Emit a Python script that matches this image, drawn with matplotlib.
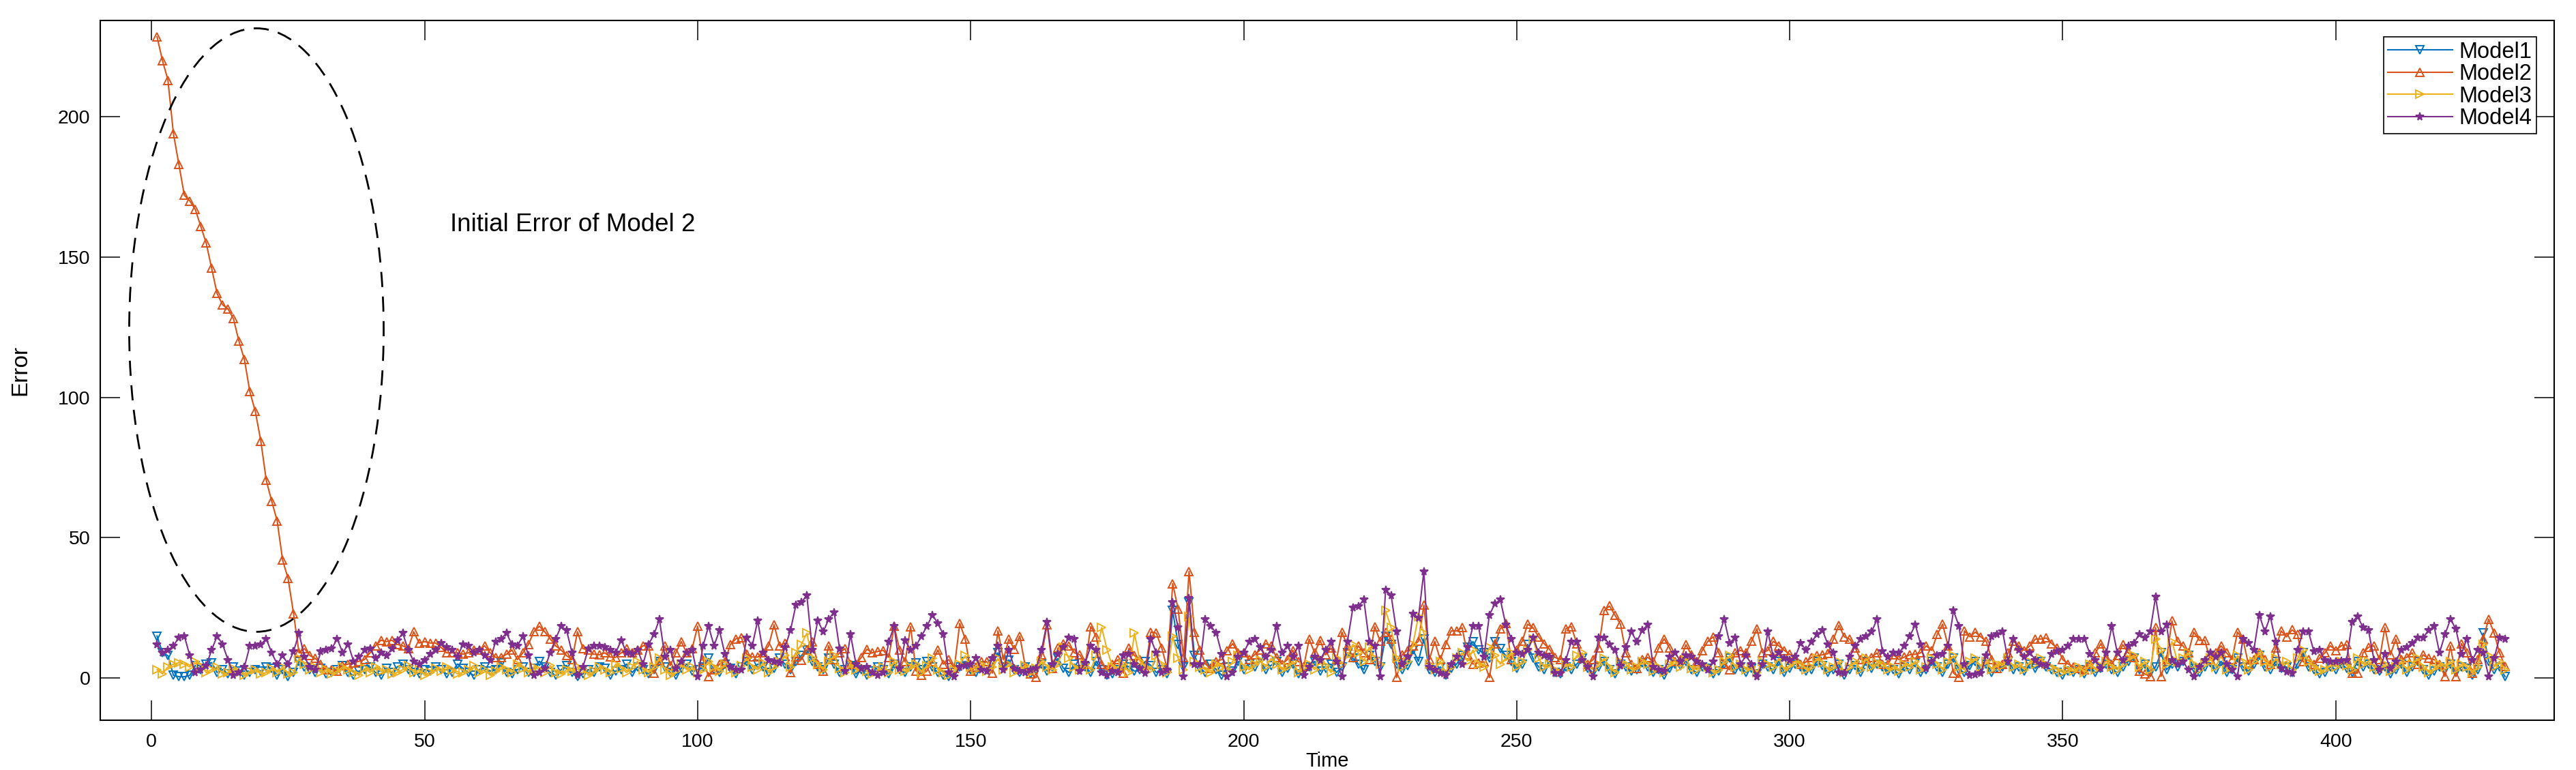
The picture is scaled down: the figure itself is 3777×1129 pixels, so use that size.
import matplotlib
matplotlib.use('Agg')
import matplotlib.pyplot as plt
from matplotlib.patches import Ellipse
import numpy as np

plt.rcParams['font.family'] = ['Liberation Sans', 'DejaVu Sans']

# error values, one per time step (t = 1..431)
model1 = [
    15, 9, 8, 1, 0.5, 0.5, 1, 4.5, 3, 5,
    5.5, 2, 3, 1.5, 4, 2.5, 1, 2, 3, 2.5,
    4, 3.5, 1, 3, 0.5, 2, 6, 4, 3, 2,
    3.5, 1.5, 2, 3, 4.5, 2, 1, 2.5, 3, 4,
    2, 1, 3.5, 2, 4, 5, 3, 2, 1.5, 3,
    2.5, 4, 3, 1.5, 2, 5, 3.5, 2, 1, 3,
    4, 2.5, 3, 5.5, 2, 1.5, 3, 4, 2, 3.5,
    6, 4, 2, 1, 3, 4.5, 2, 0.5, 1.5, 3,
    2, 4, 3.5, 1, 2.5, 3, 5, 2, 4, 3,
    1.5, 3, 6, 4, 2, 1, 3.5, 5, 2.5, 3,
    4, 7, 3, 2, 5, 3.5, 1.5, 4, 6, 3,
    5, 4, 2, 3.5, 7, 5, 3, 6, 8, 10,
    6, 4, 3, 7, 5, 2, 3, 4.5, 1.5, 3,
    1, 2.5, 4, 3, 1.5, 5, 3, 2, 4, 5.5,
    3, 6, 4, 2, 1, 0.5, 2, 4, 6, 3,
    2, 4.5, 3, 5, 9, 4, 6.5, 3, 2, 4,
    1.5, 3, 5, 2.5, 4, 7, 3.5, 2, 5, 3,
    4, 2, 6, 3, 1, 1.5, 3, 5, 4, 2.5,
    3, 6, 4.5, 2, 3, 1.5, 24, 12, 4, 27,
    8, 3.5, 2, 5, 3, 1, 4, 2.5, 6, 3,
    5, 4, 7, 3, 4.5, 6, 2, 3.5, 5, 1.5,
    3, 4, 6, 2.5, 3.5, 5, 2, 4, 9, 7,
    5, 3, 8, 6, 4, 15, 12, 5, 3, 4.5,
    10, 6, 14, 3, 2, 4, 1, 3.5, 5, 8,
    11, 13, 10, 9, 7, 13, 10.5, 8, 6, 3.5,
    5, 12, 7, 4, 3, 6, 2, 1.5, 4, 3,
    5, 7, 3.5, 2, 4, 6, 3, 1.5, 5, 4,
    2.5, 3, 5.5, 4, 2, 3, 1, 3.5, 5, 4.5,
    6, 3, 2, 4, 3.5, 1.5, 2.5, 5, 7, 3,
    4, 2, 3.5, 1.5, 5, 4, 3, 6, 2, 3.5,
    5, 4, 2.5, 3, 6, 4.5, 2, 3, 5, 1,
    3, 4.5, 2, 6, 3.5, 5, 4, 2.5, 3, 1.5,
    4, 3, 5.5, 2, 3, 6, 4, 2, 5, 7,
    3, 2, 4.5, 6, 3, 5, 2, 3.5, 4, 6,
    3, 4, 2.5, 5, 3.5, 6, 4, 3, 2, 1,
    2.5, 2, 3, 1.5, 4, 2, 3.5, 5, 3, 2,
    4, 6, 7, 3, 5, 2, 4, 9, 3, 5,
    4, 6, 8, 3.5, 2, 4, 5.5, 3, 6, 2,
    3, 7, 4, 2.5, 5, 8, 4, 3, 6, 3.5,
    4, 2, 5, 9, 4, 3, 1.5, 2, 4, 3,
    5, 3.5, 2, 6, 4, 5, 3, 2.5, 4, 1.5,
    3, 5, 2, 4, 6, 3, 1, 2.5, 4, 3,
    5, 2, 4, 3.5, 1, 3, 16, 6, 3, 4, 0.5,
]

model2 = [
    228.5, 220, 213, 194, 183, 172, 170, 167, 161, 155,
    146, 137, 133, 131.5, 128, 120, 113.5, 102, 95, 84.5,
    70.5, 63, 56, 42, 35.5, 23, 9, 10.5, 8, 7,
    5, 3, 3, 2.6, 4.5, 5, 5.5, 6, 6.6, 9,
    11.5, 13.5, 13, 13.5, 12, 11.5, 10.5, 16.5, 12.5, 13,
    12.5, 12.5, 11, 9, 9, 9, 8.5, 9, 10, 10,
    11.5, 9, 7.4, 7.4, 8.5, 10, 6.6, 9, 12, 16.5,
    18.5, 16.5, 14, 11.5, 10, 8, 6.6, 16.5, 10.5, 10,
    8.5, 8.3, 9, 7.5, 7.4, 9, 10.5, 9, 10, 11.5,
    11.5, 1.8, 6.5, 11.5, 4.5, 9, 13, 9, 10.5, 18.5,
    6.5, 0.6, 3, 5, 6, 12, 14, 14.5, 8.5, 7.5,
    7.5, 9, 11.5, 19, 11.5, 12.5, 2, 7.5, 6.5, 10,
    13, 5, 2.6, 11.5, 6.6, 9, 10.5, 5, 5, 7.4,
    10.3, 9, 9.5, 9.9, 7.4, 18.5, 10, 5.8, 18.4, 2.6,
    1, 2.6, 6, 10, 5, 6.6, 3.4, 19.5, 14, 2.6,
    4, 5.8, 5.8, 1.8, 16.8, 6.6, 13.9, 10.3, 15, 4.2,
    1.5, 0.2, 8.3, 19, 3.4, 10.7, 12.3, 11.5, 9, 8.3,
    5, 18.4, 14.7, 5, 3, 5, 6.6, 1.8, 10.7, 8,
    6.6, 3.4, 16.4, 16, 10.7, 3.4, 33.7, 24.5, 7.4, 38,
    16.4, 10, 5, 3.4, 6, 6.6, 9.9, 12.3, 9, 9,
    6.6, 8.3, 10, 12.3, 11.5, 7.4, 5, 6.6, 9.9, 6,
    4.2, 13.9, 9, 13.5, 8.3, 10.7, 6.6, 16.4, 11.5, 7.4,
    11.5, 9, 6.6, 18.4, 13.1, 16.4, 13.9, 0.2, 8.3, 9.9,
    11.5, 13.1, 26, 6.6, 13.1, 6.6, 12, 16.8, 16.8, 18,
    8.3, 5, 5.5, 5.8, 0.2, 12.3, 17.6, 19.6, 6.6, 10,
    13.1, 19.2, 18, 14.7, 12.3, 10.3, 7.4, 6.6, 17.6, 18.4,
    12.3, 7, 5, 6.6, 10.7, 24, 25.7, 22.4, 19.2, 9,
    5, 3.4, 6.6, 7.4, 5.8, 10.7, 14, 10.7, 5.8, 6.6,
    11.9, 8.3, 5.8, 9.9, 13.1, 14.7, 9, 5, 3, 9,
    9.9, 9, 13.1, 17.6, 9, 9.9, 13.1, 11.5, 9.9, 8.5,
    7.4, 5, 5.8, 7.4, 8, 8.3, 8.7, 13.9, 18.8, 14.7,
    13.9, 10.7, 6.6, 7, 7.4, 9, 5, 5, 8.3, 6.6,
    7.5, 8.3, 8.5, 9, 11.5, 9.9, 15.5, 19.2, 11.5, 1.8,
    0.2, 16.8, 14.7, 16.4, 14.7, 13.1, 6.6, 3.4, 5, 9,
    13.1, 11.5, 9.9, 11.5, 13.9, 13.9, 14.3, 12.3, 10.7, 6.6,
    5, 4, 3.4, 3, 5, 9, 12.3, 7.4, 5, 8,
    11.9, 9, 7.4, 2.6, 1.5, 0.6, 18, 0.6, 6.6, 20.4,
    13.1, 11.5, 9, 16.4, 13.5, 13.5, 6.6, 9, 11.5, 9,
    6.6, 16.4, 13.9, 5, 6.6, 9, 6.6, 5, 10.7, 16.8,
    14.7, 17.2, 15.5, 5.8, 6.6, 5, 7, 9, 11.5, 9.9,
    11.5, 11.9, 1.8, 1.8, 9, 11, 11.5, 6.6, 18, 8.3,
    13.9, 6.6, 7.4, 9, 5, 8.3, 7, 6.6, 5, 0.6,
    11.5, 0.6, 12.3, 9, 1.8, 6.6, 14, 21, 16, 9, 4.2,
]

model3 = [
    3, 1.5, 4, 5, 5.5, 5, 4, 6, 4.5, 2,
    3, 4, 1.5, 2, 3.5, 2, 1, 2.5, 3, 1.5,
    2, 3.5, 2, 4, 1.5, 2, 7, 5, 3, 4,
    2, 3, 1.5, 2.5, 4, 3, 2, 1, 3.5, 2,
    4, 2.5, 3, 1.5, 2, 3, 4.5, 2, 3, 1,
    2, 3.5, 2.5, 4, 3, 1.5, 2, 3, 4.5, 2,
    3, 1, 2.5, 4, 3, 2, 5, 3.5, 2, 4,
    3, 2, 4.5, 2, 1.5, 3, 2.5, 4, 3, 1,
    2.5, 4, 3, 2, 5, 3.5, 2, 4, 6, 3,
    2, 4, 7, 3, 1, 2.5, 5, 3, 4, 2,
    3, 6, 4, 2.5, 5, 3, 2, 4.5, 7, 4,
    3, 5.5, 2, 4, 6, 8, 4, 9, 12, 16,
    7, 5, 3, 6, 8, 3.5, 2, 5, 3, 4,
    2.5, 1.5, 3, 4, 2, 6, 3, 2.5, 4, 5,
    2, 4.5, 7, 3, 2, 1, 3, 5, 8, 4,
    3, 5, 2.5, 4, 7, 3, 5, 2, 3, 4.5,
    2, 3.5, 6, 4, 3, 5, 11, 7, 4, 3,
    5, 3, 8, 18, 10, 4, 3, 5, 2, 16,
    6, 4, 3, 8, 5, 2, 15, 7, 3, 22,
    6, 4, 3, 2, 5, 4, 3, 6, 8, 4,
    3, 5, 6.5, 4, 7, 5, 3, 4, 6, 2,
    4, 5, 3, 6, 4.5, 2, 7, 5, 8, 12,
    9, 6, 11, 7, 5, 24, 18, 7, 4, 6,
    12, 22, 16, 5, 3, 6, 2, 4, 7, 9,
    6, 10, 5, 4, 11, 8, 5, 7, 9, 4,
    6, 10, 14, 7, 4, 5, 3, 2, 5, 4,
    8, 9, 4, 3, 5, 7, 4, 2, 6, 5,
    3, 4, 6, 5, 2.5, 4, 2, 5, 6, 4,
    7, 3.5, 3, 5, 4, 2, 3, 6, 8, 4,
    5, 3, 4, 2, 6, 5, 4, 7, 3, 4.5,
    6, 5, 3, 4, 7, 5.5, 3, 4, 6, 2,
    4, 6, 3, 7, 4, 5.5, 5, 3, 4, 2.5,
    5, 4, 6, 3, 4, 7, 5, 3, 6, 8,
    4, 3, 6, 7, 4, 6, 3, 5, 4.5, 7,
    4, 5, 3, 6, 5, 7, 5, 4, 3, 2,
    3, 2.5, 4, 2, 5, 3, 4.5, 6, 4, 3,
    5, 7, 8, 4, 6, 3, 14, 10, 5, 13,
    6, 7, 9, 5, 3, 5, 7, 4, 8, 3,
    4, 8, 6, 3, 6, 9, 6, 4, 7, 5,
    6, 3, 7, 10, 6, 4, 2.5, 3, 5, 4,
    6, 4.5, 3, 7, 5, 6, 4, 3, 5, 2.5,
    4, 6, 3, 5, 7, 4, 2, 3.5, 5, 4,
    6, 3, 5, 4, 2, 4, 12, 8, 4, 6, 3,
]

model4 = [
    12, 9, 10, 11.5, 14.5, 15, 8, 2, 3, 4.5,
    10, 15, 12, 6.5, 1, 2, 4, 11.5, 11.5, 12,
    14, 9, 5, 8, 5, 9.5, 16, 7.5, 4, 3,
    9.5, 10, 10.5, 14, 9, 12, 6, 7.5, 10, 10.5,
    7, 9, 8, 10.5, 13.5, 16, 10, 6, 5, 6.5,
    8.5, 10, 12.5, 11, 10, 7.5, 12, 11.5, 9, 10,
    8, 6.5, 13, 14, 16, 12, 11.5, 15, 8, 1,
    2, 3.5, 9, 14, 18.5, 17, 9, 1, 4, 10.5,
    11.5, 11.5, 11, 10, 9, 13.5, 9, 8.5, 10, 5,
    12, 15.5, 21, 7.5, 10, 3.5, 6, 9, 10, 0.6,
    11.5, 18.5, 11.5, 17, 8.5, 4, 3, 3, 14.5, 11.5,
    20.5, 9, 6.5, 6, 5.5, 11, 17, 26, 27, 29.5,
    10, 20.5, 16.5, 21, 23.5, 10.5, 2.5, 15.5, 5, 3.5,
    4, 2, 1, 2, 13, 18.5, 3.5, 13.5, 10, 11.5,
    15, 18.5, 22.5, 19.5, 15.5, 2, 0.6, 4, 4.5, 5,
    7, 3, 2.5, 7, 11.5, 3, 10, 3.5, 2.5, 2,
    3, 3.5, 10, 20, 5, 8.5, 11, 14.5, 14, 2.5,
    5.5, 11.5, 10, 2, 1, 2.5, 2, 8, 8.5, 5,
    3.5, 1.8, 14, 9, 2, 3, 27, 18, 0.6, 28.5,
    5, 5, 21, 18.5, 16, 8.5, 0.6, 2, 7.5, 9,
    13, 14, 11, 7.5, 10, 18.5, 9, 11.5, 7.5, 11.5,
    1, 4, 7.5, 6.5, 10, 13, 5.8, 0.6, 13, 25,
    25.5, 28, 13, 11.5, 0.6, 31.5, 29.5, 16.5, 5, 7.5,
    23, 21.5, 38, 4, 3, 1.8, 1, 5, 7.5, 5,
    11, 18.5, 18.5, 7.5, 22.5, 26.5, 28, 19, 14, 9,
    8.5, 10, 14.5, 9, 8, 7.5, 1.8, 1.8, 6.5, 13,
    13, 6.5, 4, 0.6, 14.5, 14.5, 12, 10, 4.5, 11,
    16.5, 13, 17, 19, 4, 3, 2.5, 7.5, 9, 6,
    8, 7.5, 6, 5, 3, 6, 15, 21, 12.5, 14.5,
    5, 8, 5, 0.6, 5, 16.5, 7.5, 9, 7, 6.5,
    7.5, 12.5, 10, 13, 15.5, 17, 12, 9, 2, 1.8,
    7.5, 11.5, 14, 15, 16.5, 21, 9.5, 7.5, 9, 9,
    11.5, 15, 19, 12, 3.5, 6, 8, 8.5, 11.5, 24,
    18.5, 5, 1, 1.4, 1.8, 8, 15, 15.5, 16.5, 6,
    14, 10, 7.5, 9, 6.5, 5, 4.5, 8.5, 9.5, 10,
    11.5, 14, 14, 14, 8.5, 6.5, 3.5, 9, 18.5, 9,
    6.5, 11.5, 12.5, 15.5, 14.5, 16.5, 29, 16.5, 19, 6.5,
    5, 6, 3, 0.6, 4, 6.5, 9, 7.5, 9, 5,
    3, 0.6, 14, 12.5, 10, 22.5, 16.5, 22, 13, 3.5,
    2.2, 1.8, 10, 16.5, 16.5, 9.5, 10, 6.5, 6, 6,
    6.2, 6.5, 20, 22, 18, 17, 6.5, 3, 8.5, 3.5,
    6, 10, 11, 12.5, 14.5, 14.5, 17, 18.5, 9, 15.5,
    21, 17.5, 8.5, 14, 6.5, 10, 9, 0.6, 7, 14.5, 14,
]

labels = ['Model1', 'Model2', 'Model3', 'Model4']
colors = ['#0072BD', '#D95319', '#EDB120', '#7E2F8E']
markers = ['v', '^', '>', '*']

series = [model1, model2, model3, model4]
n = len(model2)
assert all(len(s) == n for s in series), [len(s) for s in series]
time = np.arange(1, n + 1)

W, H = 3777, 1129
fig = plt.figure(figsize=(W / 100, H / 100), dpi=100)
ax = fig.add_axes([147 / W, 1 - 1056 / H, (3745 - 147) / W, (1056 - 30) / H])

for s, lab, c, m in zip(series, labels, colors, markers):
    filled = (m == '*')
    ax.plot(time, s, color=c, lw=1.5, marker=m, ms=8 if not filled else 8.5,
            mfc=c if filled else 'none', mec=c, mew=1.4, label=lab)

# dashed ellipse around the initial error of Model 2
ax.add_patch(Ellipse((19.2, 124), 46.6, 215, fill=False, ec='black',
                     lw=2.0, ls=(0, (8, 5)), zorder=5))
ax.text(54.7, 161.5, 'Initial Error of Model 2', fontsize=26.5,
        ha='left', va='center')

ax.set_xlim(-9.4, 440)
ax.set_ylim(-15, 234.3)
ax.set_xticks(np.arange(0, 401, 50))
ax.set_yticks(np.arange(0, 201, 50))

ax.tick_params(direction='in', length=21, width=1.1, top=True, right=True,
               labelsize=20.5, colors='black')
ax.tick_params(axis='x', pad=14)
ax.tick_params(axis='y', pad=10.5)
for sp in ax.spines.values():
    sp.set_linewidth(1.5)

ax.set_xlabel('Time', fontsize=21, va='top')
ax.xaxis.set_label_coords(0.5, -(1102 - 1056) / (1056 - 30))
ax.set_ylabel('Error', fontsize=24, va='center')
ax.yaxis.set_label_coords((30 - 147) / (3745 - 147), 0.5)

leg = ax.legend(loc='upper right', bbox_to_anchor=(3719 / W, 1 - 54 / H),
                bbox_transform=fig.transFigure, fontsize=23.5, frameon=True,
                fancybox=False, edgecolor='black', framealpha=1,
                borderpad=0.2, labelspacing=0.05, handlelength=2.9,
                handletextpad=0.3, borderaxespad=0, numpoints=1)
leg.get_frame().set_linewidth(1.2)

fig.savefig('out.png', dpi=100)
